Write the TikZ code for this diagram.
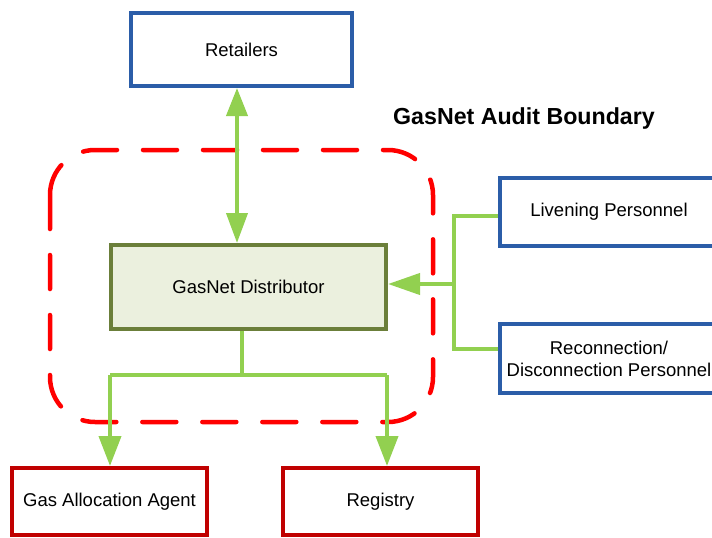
\documentclass[tikz,border=0pt]{standalone}
\usepackage{fontspec}
\setmainfont{Liberation Sans}
\usetikzlibrary{arrows.meta}
\definecolor{bbord}{HTML}{2B5DA8}
\definecolor{rbord}{HTML}{C00000}
\definecolor{gline}{HTML}{92D050}
\definecolor{dbord}{HTML}{6B7F3A}
\definecolor{dfill}{HTML}{EBF0DE}
\tikzset{
  boxbase/.style={draw, line width=4pt, rectangle, align=center, inner sep=0pt,
    font=\fontsize{18.5}{22}\selectfont},
  bluebox/.style={boxbase, draw=bbord},
  redbox/.style={boxbase, draw=rbord},
  distbox/.style={boxbase, draw=dbord, fill=dfill},
  gconn/.style={draw=gline, line width=4pt},
  garrow/.style={gconn, -{Triangle[length=30pt,width=22pt]}},
  gdarrow/.style={gconn, {Triangle[length=28pt,width=21pt]}-{Triangle[length=30pt,width=21pt]}},
  boundary/.style={draw=red, line width=4.5pt, line cap=round, dash pattern=on 34pt off 26pt, rounded corners=45pt}
}
\begin{document}
\begin{tikzpicture}[x=1pt,y=-1pt]
\useasboundingbox (0,0) rectangle (712,538);
\clip (0,0) rectangle (712,538);
% boundary
\draw[boundary] (50,150) rectangle (433,422);
\node[font=\bfseries\fontsize{23.2}{26}\selectfont] (title) at (524,118) {GasNet Audit Boundary};
% boxes
\node[bluebox, minimum width=221pt, minimum height=73pt] (ret) at (241.5,49.5) {Retailers};
\node[distbox, minimum width=275pt, minimum height=84pt] (dist) at (248.5,287) {GasNet Distributor};
\node[bluebox, minimum width=218pt, minimum height=68pt] (liv) at (609,212) {Livening Personnel};
\node[bluebox, minimum width=218pt, minimum height=69pt] (rec) at (609,358.5) {Reconnection/\\Disconnection Personnel};
\node[redbox, minimum width=195pt, minimum height=67pt] (gaa) at (109.5,501.5) {Gas Allocation Agent};
\node[redbox, minimum width=195pt, minimum height=67pt] (reg) at (380.5,501.5) {Registry};
% connectors
\coordinate (ax) at (237,0);
\draw[gdarrow] (ax |- ret.south) -- (ax |- dist.north);
\coordinate (lv) at ([yshift=-4pt]liv.west);
\coordinate (rc) at ([yshift=10pt]rec.west);
\coordinate (vx) at (454,0);
\draw[gconn] (lv) -- (vx |- lv) -- (vx |- rc) -- (rc);
\coordinate (mid) at (454,284);
\draw[gconn, -{Triangle[length=32pt,width=21pt]}] (mid) -- (dist.east |- mid);
\coordinate (jb) at (242,375);
\coordinate (rx) at (387,0);
\coordinate (lx) at (110,0);
\draw[gconn] (jb |- dist.south) -- (jb);
\draw[gconn] (lx |- jb) -- (rx |- jb);
\draw[garrow] (lx |- jb) -- (lx |- gaa.north);
\draw[garrow] (rx |- jb) -- (rx |- reg.north);
\end{tikzpicture}
\end{document}
